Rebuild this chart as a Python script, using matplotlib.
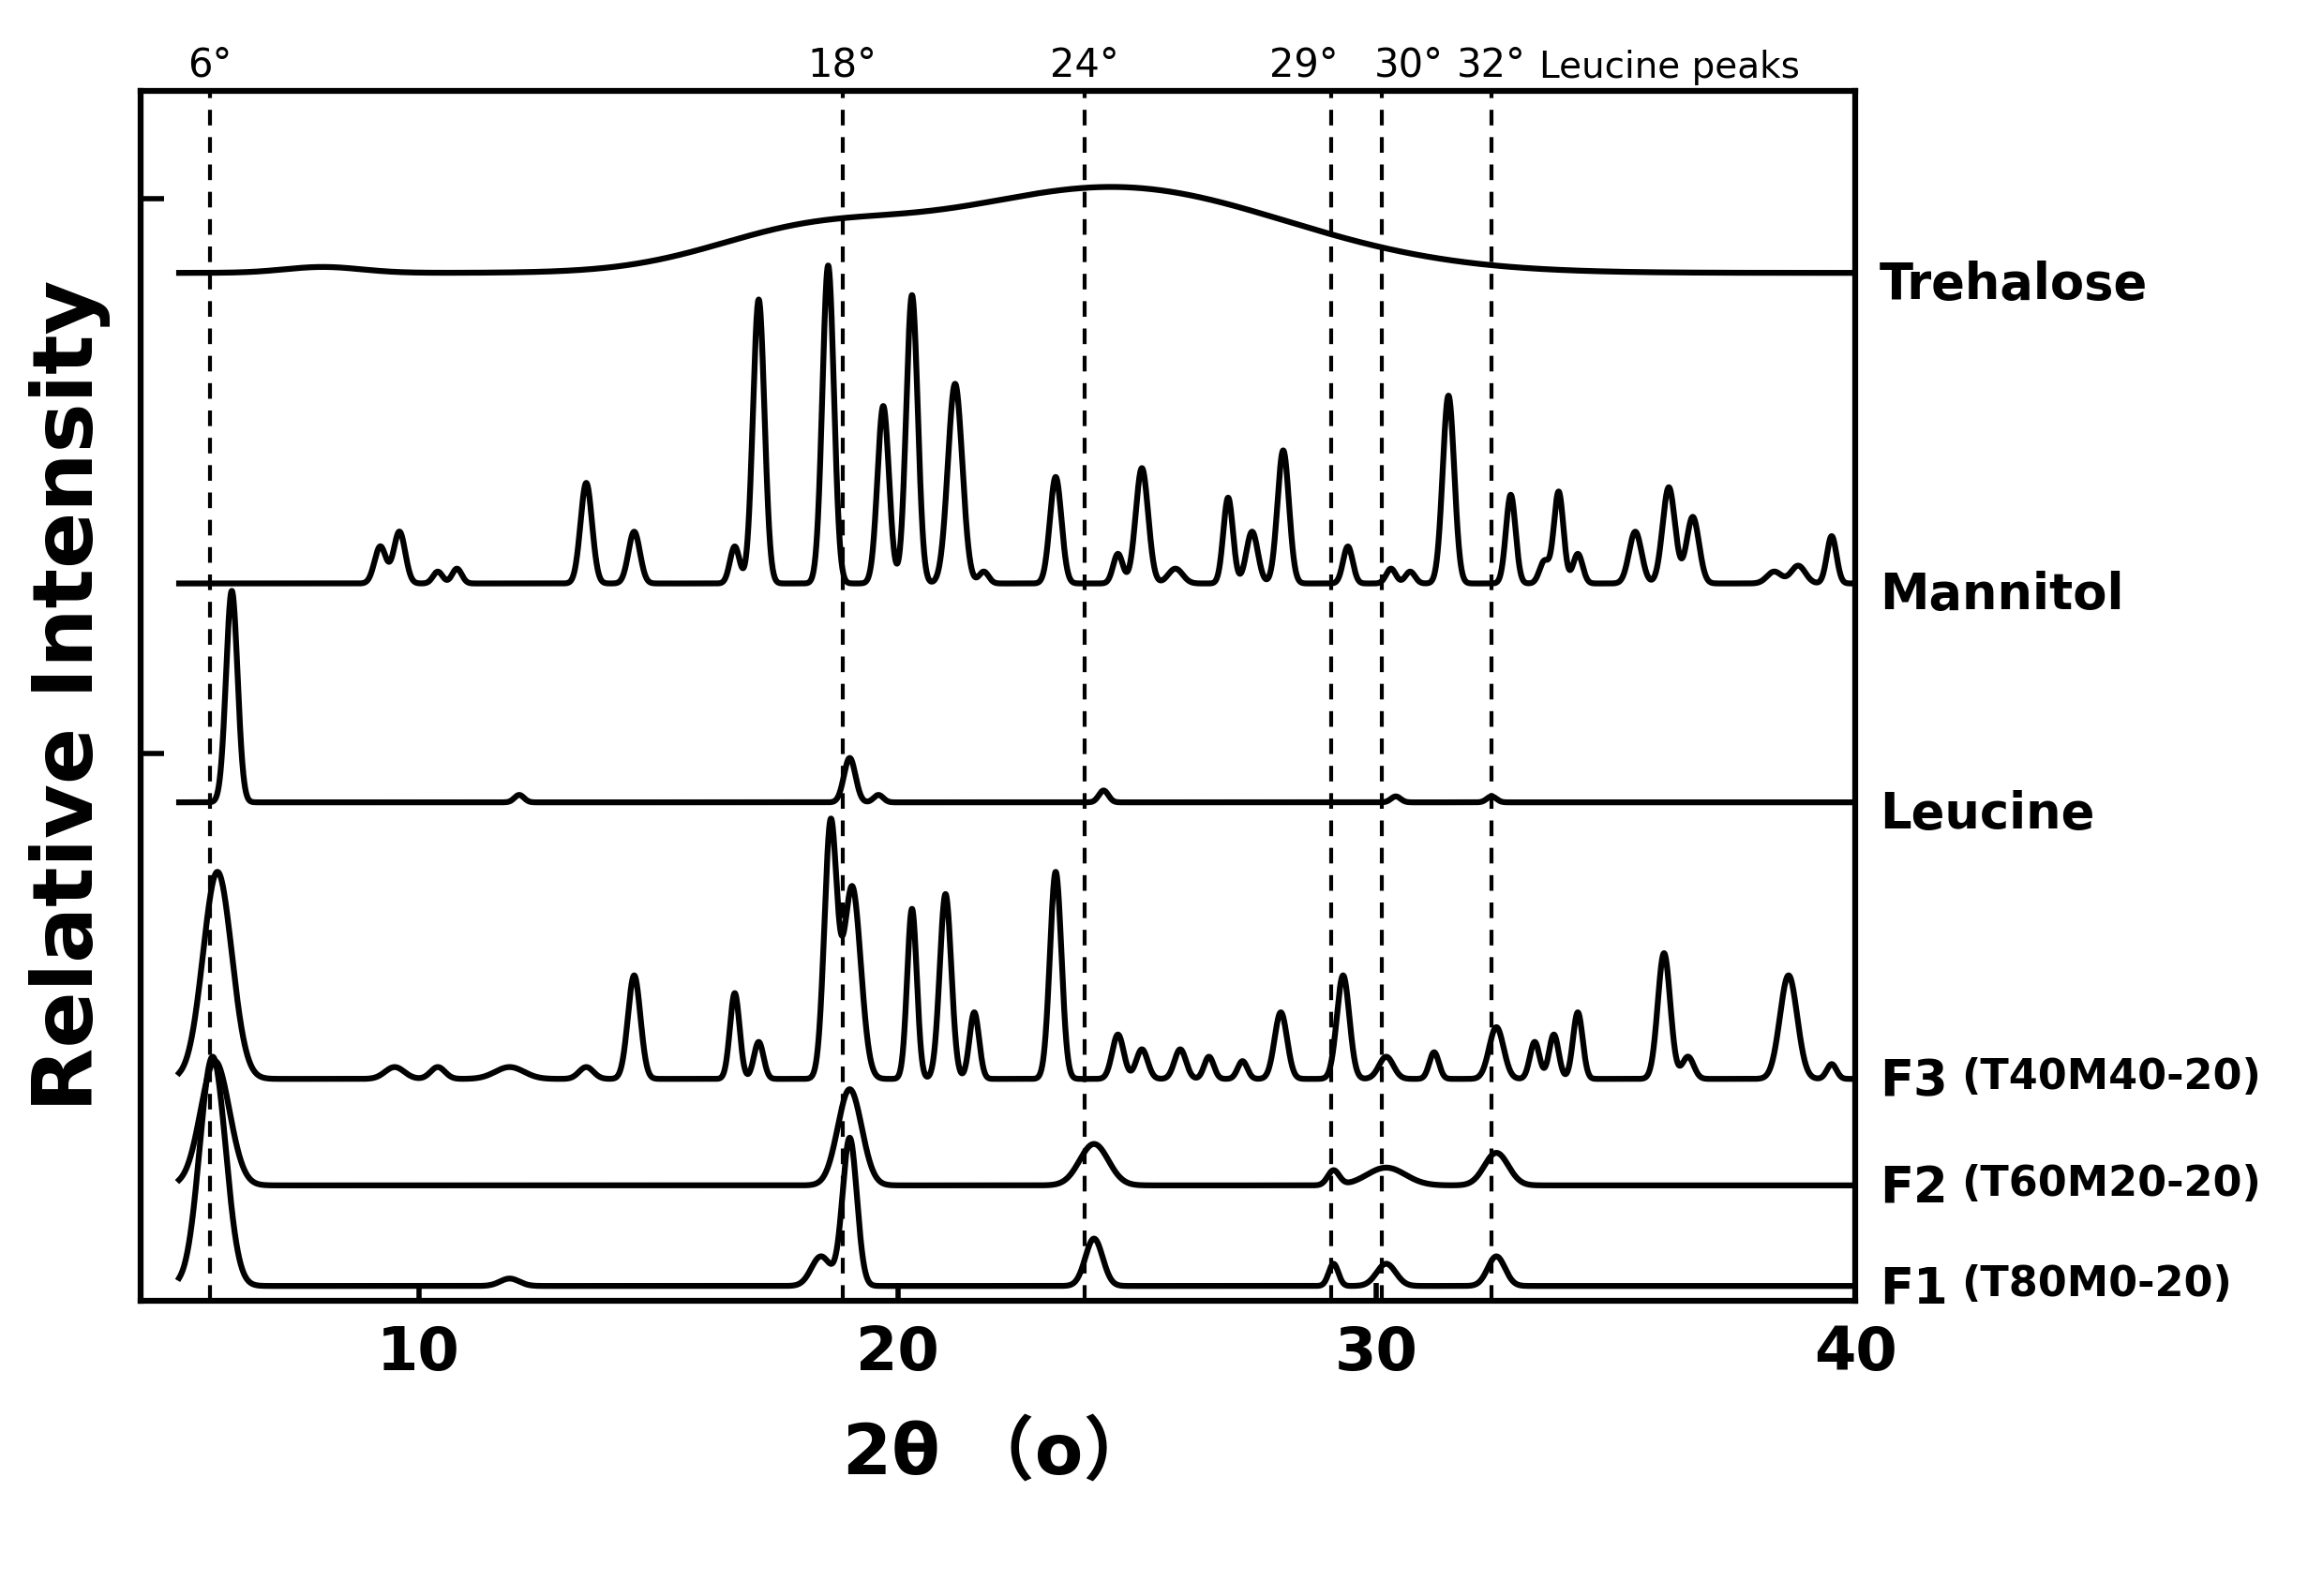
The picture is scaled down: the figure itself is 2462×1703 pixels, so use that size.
import numpy as np
import matplotlib
matplotlib.use("Agg")
import matplotlib.pyplot as plt

# sample baselines (vertical offsets) and peak lists: (position, height, width)
names = ["Trehalose", "Mannitol", "Leucine", "F3", "F2", "F1"]
offsets = [695, 485, 337, 150, 78, 10]
trehalose_peaks = [(24.5, 58, 3.6), (18.0, 22, 2.0), (8.0, 4, 0.8)]
mannitol_peaks = [(9.2, 25, .12), (9.6, 35, .12), (10.4, 8, .1), (10.8, 10, .1), (13.5, 68, .12),
                  (14.5, 35, .12), (16.6, 25, .1), (17.1, 192, .12), (18.55, 215, .12), (19.7, 120, .12),
                  (20.3, 195, .12), (21.2, 135, .15), (21.8, 8, .1), (23.3, 72, .12), (24.6, 20, .1),
                  (25.1, 78, .13), (25.8, 10, .15), (26.9, 58, .1), (27.4, 35, .12), (28.05, 90, .12),
                  (29.4, 25, .1), (30.3, 10, .1), (30.7, 8, .1), (31.5, 127, .12), (32.8, 60, .1),
                  (33.5, 15, .1), (33.8, 62, .1), (34.2, 20, .1), (35.4, 35, .13), (36.1, 65, .13),
                  (36.6, 45, .13), (38.3, 8, .15), (38.8, 12, .15), (39.5, 32, .1)]
leucine_peaks = [(6.1, 143, .12), (12.1, 5, .1), (19.0, 30, .12), (19.6, 5, .1), (24.3, 8, .1),
                 (30.4, 4, .1), (32.4, 4, .1)]
f3_peaks = [(5.8, 140, .3), (9.5, 8, .2), (10.4, 8, .15), (11.9, 8, .3), (13.5, 8, .15), (14.5, 70, .13),
            (16.6, 58, .1), (17.1, 25, .1), (18.6, 170, .13), (19.05, 130, .18), (20.3, 115, .1),
            (21.0, 125, .12), (21.6, 45, .1), (23.3, 140, .12), (24.6, 30, .12), (25.1, 20, .12),
            (25.9, 20, .12), (26.5, 15, .1), (27.2, 12, .1), (28.0, 45, .13), (29.3, 70, .13),
            (30.2, 15, .15), (31.2, 18, .1), (32.5, 35, .15), (33.3, 25, .1), (33.7, 30, .1),
            (34.2, 45, .1), (36.0, 85, .13), (36.5, 15, .12), (38.6, 70, .18), (39.5, 10, .1)]
f2_peaks = [(5.75, 84, .3), (19.0, 65, .25), (24.1, 28, .3), (29.1, 10, .12), (30.2, 12, .4), (32.5, 22, .25)]
f1_peaks = [(5.7, 155, .27), (11.9, 5, .2), (18.4, 20, .2), (19.0, 100, .15), (24.1, 32, .18),
            (29.1, 15, .1), (30.2, 15, .2), (32.5, 20, .18)]
all_peaks = [trehalose_peaks, mannitol_peaks, leucine_peaks, f3_peaks, f2_peaks, f1_peaks]
right_labels = ["Trehalose", "Mannitol", "Leucine", "F3", "F2", "F1"]
sub_labels = ["", "", "", "(T40M40-20)", "(T60M20-20)", "(T80M0-20)"]
peak_lines = [5.65, 18.85, 23.9, 29.05, 30.1, 32.4]
peak_texts = ["6°", "18°", "24°", "29°", "30°", "32°"]
peak_align = ["center", "center", "center", "right", "left", "center"]

plt.rcParams['font.family'] = ['DejaVu Sans']
fig = plt.figure(figsize=(24.62, 17.03), dpi=100)
ax = fig.add_axes([0.061, 0.185, 0.743, 0.758])
x = np.linspace(5.0, 40, 6000)
for off, peaks in zip(offsets, all_peaks):
    y = np.full_like(x, float(off))
    for p, h, w in peaks:
        y += h * np.exp(-0.5 * ((x - p) / w) ** 2)
    ax.plot(x, y, color='black', lw=4.5)
for xv in peak_lines:
    ax.axvline(xv, color='black', lw=3, ls=(0, (4, 3)))
ax.set_xlim(4.2, 40)
ax.set_ylim(0, 818)
ax.set_xticks([10, 20, 30, 40])
ax.set_yticks([0, 370, 745])
ax.set_yticklabels([])
ax.tick_params(axis='x', labelsize=46, width=4, length=14, direction='in', pad=18)
ax.tick_params(axis='y', width=4, length=18, direction='in')
for lab in ax.get_xticklabels():
    lab.set_fontweight('bold')
for s in ax.spines.values():
    s.set_linewidth(4.5)
for xv, t, al in zip(peak_lines, peak_texts, peak_align):
    dx = {"center": 0, "right": 0.15, "left": -0.15}[al]
    ax.text(xv + dx, 822, t, ha=al, va='bottom', fontsize=30)
ax.text(33.4, 822, "Leucine peaks", ha='left', va='bottom', fontsize=28)
for off, lab, sub in zip(offsets, right_labels, sub_labels):
    yl = off - 8 if off > 300 else off - 2
    ax.text(40.5, yl, lab, ha='left', va='center', fontsize=38, fontweight='bold', clip_on=False)
    if sub:
        ax.text(42.2, yl + 3, sub, ha='left', va='center', fontsize=32, fontweight='bold', clip_on=False)
ax.set_ylabel("Relative Intensity", fontsize=64, fontweight='bold', labelpad=20)
ax.set_xlabel("2θ （o）", fontsize=54, fontweight='bold', labelpad=30,
              family=['DejaVu Sans', 'Noto Sans CJK SC'])
fig.savefig("out.png", dpi=100)
